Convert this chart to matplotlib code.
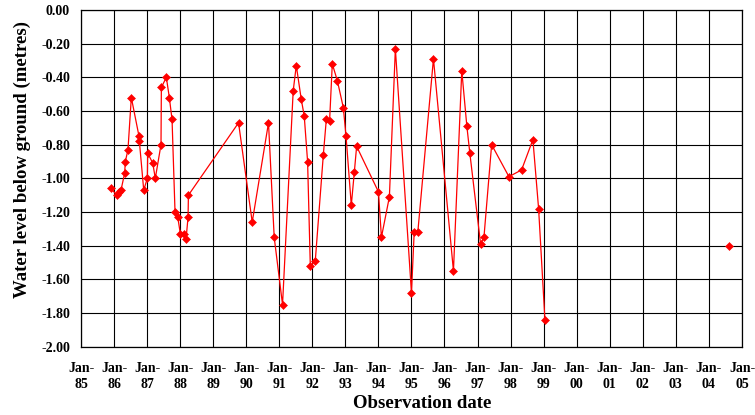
import numpy as np
import pandas as pd
import matplotlib
matplotlib.use('Agg')
import matplotlib.pyplot as plt
import matplotlib.dates as mdates

# Fechas de observacion y nivel del agua bajo el terreno (m)
fechas = ['1985-11-28', '1986-01-31', '1986-02-25', '1986-03-19', '1986-04-28',
          '1986-05-06', '1986-06-04', '1986-07-11', '1986-10-04', '1986-10-08',
          '1986-11-25', '1987-01-04', '1987-01-08', '1987-03-05', '1987-04-02',
          '1987-06-04', '1987-06-08', '1987-08-02', '1987-09-04', '1987-10-04',
          '1987-11-06', '1987-12-06', '1988-01-04', '1988-02-11', '1988-03-07',
          '1988-03-29', '1988-04-02', '1989-10-08', '1990-03-08', '1990-09-04',
          '1990-11-06', '1991-02-06', '1991-06-04', '1991-07-08', '1991-09-01',
          '1991-10-04', '1991-11-10', '1991-12-10', '1992-02-03', '1992-05-02',
          '1992-06-04', '1992-07-10', '1992-08-09', '1992-10-04', '1992-12-09',
          '1993-01-08', '1993-03-07', '1993-04-10', '1993-05-05', '1994-01-01',
          '1994-02-03', '1994-05-02', '1994-07-07', '1995-01-01', '1995-01-31',
          '1995-03-12', '1995-09-01', '1996-04-09', '1996-07-10', '1996-09-04',
          '1996-10-07', '1997-02-03', '1997-03-12', '1997-06-05', '1997-12-13',
          '1998-05-02', '1998-09-04', '1998-11-06', '1999-01-15']
nivel = [-1.06, -1.10, -1.08, -1.07, -0.97,
         -0.90, -0.83, -0.52, -0.75, -0.78,
         -1.07, -1.00, -0.85, -0.91, -1.00,
         -0.80, -0.46, -0.40, -0.52, -0.65,
         -1.20, -1.23, -1.33, -1.33, -1.36,
         -1.23, -1.10, -0.67, -1.26, -0.67,
         -1.35, -1.75, -0.48, -0.33, -0.53,
         -0.63, -0.90, -1.52, -1.49, -0.86,
         -0.65, -0.66, -0.32, -0.42, -0.58,
         -0.75, -1.16, -0.96, -0.81, -1.08,
         -1.35, -1.11, -0.23, -1.68, -1.32,
         -1.32, -0.29, -1.55, -0.36, -0.69,
         -0.85, -1.39, -1.35, -0.80, -0.99,
         -0.95, -0.77, -1.18, -1.84]

# lectura aislada de 2004 (sin continuidad con la serie)
fecha_2004 = ['2004-08-08']
nivel_2004 = [-1.40]

anios = list(range(1985, 2006))
etiquetas_x = ['Jan-\n%02d' % (a % 100) for a in anios]
valores_y = [0.0, -0.2, -0.4, -0.6, -0.8, -1.0, -1.2, -1.4, -1.6, -1.8, -2.0]

FUENTE = 'Liberation Serif'

fig = plt.figure(figsize=(7.55, 4.15), dpi=100)
ax = fig.add_axes([0.1073, 0.1646, 0.8755, 0.8113])

x = pd.to_datetime(fechas)
ax.plot(x, nivel, color='#FF0000', lw=0.9, marker='D', ms=4.5, mew=0.4,
        mec='#FF0000', mfc='#FF0000', zorder=3)
ax.plot(pd.to_datetime(fecha_2004), nivel_2004, ls='none', marker='D', ms=4.5,
        mew=0.4, color='#FF0000', zorder=3)

ticks_x = [pd.Timestamp('%d-01-01' % a) for a in anios]
ax.set_xlim(ticks_x[0], ticks_x[-1])
ax.set_xticks(ticks_x)
ax.set_xticklabels(etiquetas_x, fontfamily=FUENTE, fontweight='bold',
                   fontsize=10, linespacing=1.35)
ax.set_ylim(-2.0, 0.0)
ax.set_yticks(valores_y)
ax.set_yticklabels(['%.2f' % v for v in valores_y], fontfamily=FUENTE,
                   fontweight='bold', fontsize=10)
ax.tick_params(length=0, pad=8)
ax.tick_params(axis='x', pad=11)

ax.grid(True, color='black', lw=0.8)
ax.set_axisbelow(True)
for s in ax.spines.values():
    s.set_color('black')
    s.set_linewidth(0.9)

ax.set_ylabel('Water level below ground (metres)', fontfamily=FUENTE,
              fontweight='bold', fontsize=13.5, va='center')
ax.yaxis.set_label_coords(-0.0893, 0.5545)
ax.set_xlabel('Observation date', fontfamily=FUENTE, fontweight='bold',
              fontsize=13.5, va='center')
ax.xaxis.set_label_coords(0.5166, -0.170)

plt.savefig('out.png', dpi=100, facecolor='white')
plt.close()
